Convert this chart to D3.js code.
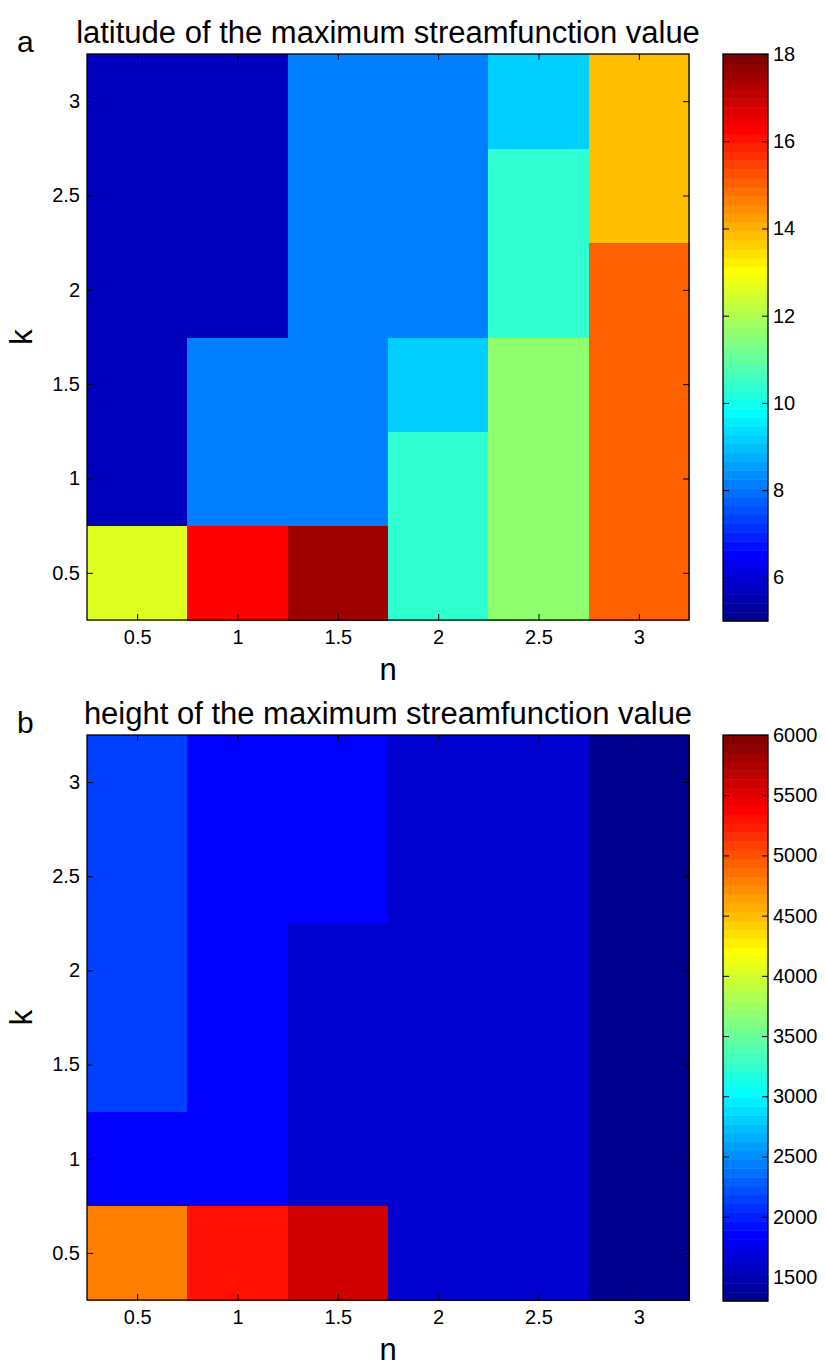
<!DOCTYPE html>
<html>
<head>
<meta charset="utf-8">
<script src="https://cdn.jsdelivr.net/npm/d3@7"></script>
<style>
body { margin: 0; background: #fff; }
text { font-family: "Liberation Sans", Arial, sans-serif; fill: #000; }
</style>
</head>
<body>
<div id="div_svg"></div>
<script>
// grid axes
var nVals = [0.5, 1, 1.5, 2, 2.5, 3];
var kVals = [0.5, 1, 1.5, 2, 2.5, 3];

// panel a: latitude, rows = k (0.5 .. 3), columns = n (0.5 .. 3)
var latitude = [
	[12.6, 16.3, 17.5, 10.4, 11.6, 15.0],
	[5.7, 8.1, 8.1, 10.4, 11.6, 15.0],
	[5.7, 8.1, 8.1, 9.2, 11.6, 15.0],
	[5.7, 5.7, 8.1, 8.1, 10.4, 15.0],
	[5.7, 5.7, 8.1, 8.1, 10.4, 13.8],
	[5.7, 5.7, 8.1, 8.1, 9.2, 13.8]
];
var latRange = [5, 18];
var latTicks = [6, 8, 10, 12, 14, 16, 18];

// panel b: height
var height = [
	[4787, 5300, 5594, 1630, 1630, 1300],
	[1851, 1851, 1630, 1630, 1630, 1300],
	[2145, 1851, 1630, 1630, 1630, 1300],
	[2145, 1851, 1630, 1630, 1630, 1300],
	[2145, 1851, 1851, 1630, 1630, 1300],
	[2145, 1851, 1851, 1630, 1630, 1300]
];
var heightRange = [1300, 6000];
var heightTicks = [1500, 2000, 2500, 3000, 3500, 4000, 4500, 5000, 5500, 6000];

var axTicks = [0.5, 1, 1.5, 2, 2.5, 3];

// matlab jet(64)
function jet(m) {
	var n = Math.ceil(m / 4);
	var u = [];
	for (var i = 1; i <= n; i++) u.push(i / n);
	for (var i = 1; i < n; i++) u.push(1);
	for (var i = n; i >= 1; i--) u.push(i / n);
	var g0 = Math.ceil(n / 2) - (m % 4 == 1 ? 1 : 0);
	var cm = [];
	for (var i = 0; i < m; i++) cm.push([0, 0, 0]);
	for (var j = 0; j < u.length; j++) {
		var g = g0 + j + 1, r = g + n, b = g - n;
		if (g >= 1 && g <= m) cm[g - 1][1] = u[j];
		if (r >= 1 && r <= m) cm[r - 1][0] = u[j];
		if (b >= 1 && b <= m) cm[b - 1][2] = u[j];
	}
	return cm.map(function(c) {
		return d3.rgb(c[0] * 255, c[1] * 255, c[2] * 255).formatHex();
	});
}
var jetColors = jet(64);

var svg = d3.select("#div_svg").append("svg").attr("width", 825).attr("height", 1367);

var panels = [
	{label: "a", title: "latitude of the maximum streamfunction value", data: latitude,
		range: latRange, ticks: latTicks, top: 54, bottom: 620},
	{label: "b", title: "height of the maximum streamfunction value", data: height,
		range: heightRange, ticks: heightTicks, top: 735, bottom: 1300}
];

var left = 87, right = 689, cbLeft = 723, cbRight = 768, tickLen = 6;
var fs = "20px";

panels.forEach(function(p) {
	var x = d3.scaleLinear().domain([0.25, 3.25]).range([left, right]);
	var y = d3.scaleLinear().domain([0.25, 3.25]).range([p.bottom, p.top]);
	var color = d3.scaleQuantize().domain(p.range).range(jetColors);
	var g = svg.append("g");

	// cells
	p.data.forEach(function(row, ki) {
		row.forEach(function(v, ni) {
			g.append("rect")
				.attr("x", x(nVals[ni] - 0.25))
				.attr("y", y(kVals[ki] + 0.25))
				.attr("width", x(nVals[ni] + 0.25) - x(nVals[ni] - 0.25) + 0.5)
				.attr("height", y(kVals[ki] - 0.25) - y(kVals[ki] + 0.25) + 0.5)
				.attr("fill", color(v))
				.attr("shape-rendering", "crispEdges");
		});
	});

	// axes, ticks pointing inward like matlab
	g.append("g").attr("transform", "translate(0," + p.bottom + ")")
		.call(d3.axisBottom(x).tickValues(axTicks).tickSizeInner(-tickLen).tickSizeOuter(0).tickPadding(10).tickFormat(d3.format("")))
		.call(function(a) { a.select(".domain").remove(); a.selectAll("text").style("font-size", fs).attr("font-family", null); });
	g.append("g").attr("transform", "translate(0," + p.top + ")")
		.call(d3.axisTop(x).tickValues(axTicks).tickSizeInner(-tickLen).tickSizeOuter(0).tickFormat(""))
		.call(function(a) { a.select(".domain").remove(); });
	g.append("g").attr("transform", "translate(" + left + ",0)")
		.call(d3.axisLeft(y).tickValues(axTicks).tickSizeInner(-tickLen).tickSizeOuter(0).tickPadding(7).tickFormat(d3.format("")))
		.call(function(a) { a.select(".domain").remove(); a.selectAll("text").style("font-size", fs).attr("font-family", null); });
	g.append("g").attr("transform", "translate(" + right + ",0)")
		.call(d3.axisRight(y).tickValues(axTicks).tickSizeInner(-tickLen).tickSizeOuter(0).tickFormat(""))
		.call(function(a) { a.select(".domain").remove(); });
	g.append("rect").attr("x", left).attr("y", p.top).attr("width", right - left)
		.attr("height", p.bottom - p.top).attr("fill", "none").attr("stroke", "#000").attr("stroke-width", 1.3);

	// colorbar
	var cy = d3.scaleLinear().domain(p.range).range([p.bottom + 1, p.top]);
	var step = (p.range[1] - p.range[0]) / 64;
	jetColors.forEach(function(c, i) {
		var v0 = p.range[0] + i * step, v1 = v0 + step;
		g.append("rect").attr("x", cbLeft).attr("y", cy(v1))
			.attr("width", cbRight - cbLeft).attr("height", cy(v0) - cy(v1) + 0.5)
			.attr("fill", c);
	});
	g.append("g").attr("transform", "translate(" + cbRight + ",0)")
		.call(d3.axisRight(cy).tickValues(p.ticks).tickSizeInner(-tickLen).tickSizeOuter(0).tickPadding(5).tickFormat(d3.format("")))
		.call(function(a) { a.select(".domain").remove(); a.selectAll("text").style("font-size", fs).attr("font-family", null); });
	g.append("g").attr("transform", "translate(" + cbLeft + ",0)")
		.call(d3.axisLeft(cy).tickValues(p.ticks).tickSizeInner(-tickLen).tickSizeOuter(0).tickFormat(""))
		.call(function(a) { a.select(".domain").remove(); });
	g.append("rect").attr("x", cbLeft).attr("y", p.top).attr("width", cbRight - cbLeft)
		.attr("height", p.bottom + 1 - p.top).attr("fill", "none").attr("stroke", "#000").attr("stroke-width", 1.3);

	// labels
	g.append("text").attr("x", (left + right) / 2).attr("y", p.top - 11)
		.attr("text-anchor", "middle").style("font-size", "31px").text(p.title);
	g.append("text").attr("x", 17).attr("y", p.top - 2)
		.style("font-size", "30px").text(p.label);
	g.append("text").attr("x", (left + right) / 2).attr("y", p.bottom + 60)
		.attr("text-anchor", "middle").style("font-size", "31px").text("n");
	g.append("text").attr("transform", "translate(32," + ((p.top + p.bottom) / 2) + ") rotate(-90)")
		.attr("text-anchor", "middle").style("font-size", "31px").text("k");
});
</script>
</body>
</html>
